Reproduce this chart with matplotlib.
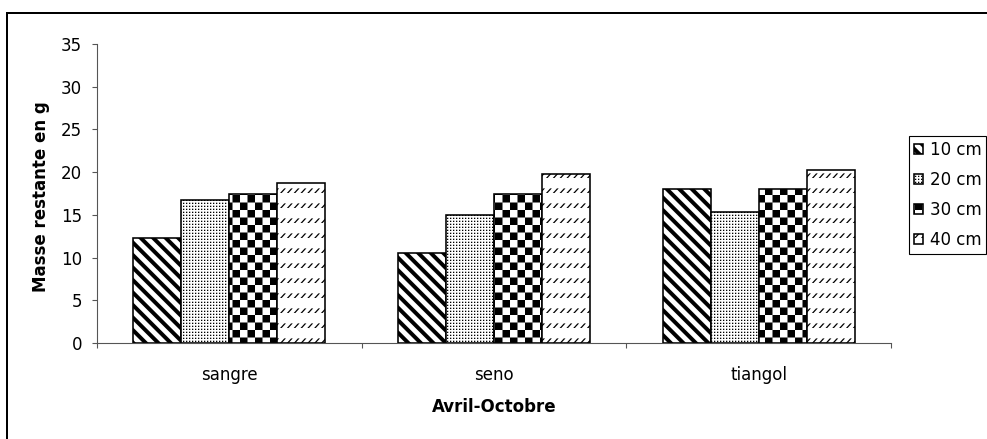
import numpy as np
import matplotlib
matplotlib.use('Agg')
import matplotlib.pyplot as plt
import matplotlib.hatch as mhatch
from matplotlib.path import Path
from matplotlib.patches import Rectangle

# ---------------- data ----------------
categories = ['sangre', 'seno', 'tiangol']
series_labels = ['10 cm', '20 cm', '30 cm', '40 cm']
values_10cm = [12.3, 10.5, 18.0]
values_20cm = [16.7, 15.0, 15.3]
values_30cm = [17.4, 17.5, 18.0]
values_40cm = [18.7, 19.8, 20.3]
y_ticks = [0, 5, 10, 15, 20, 25, 30, 35]
x_title = 'Avril-Octobre'
y_title = 'Masse restante en g'

# ---------------- custom fill patterns (Excel-like) ----------------
DPI = 75
T = float(DPI)  # hatch tile size in pixels


def _poly_path(polys):
    verts, codes = [], []
    for p in polys:
        verts.extend(p)
        verts.append(p[0])
        codes.extend([Path.MOVETO] + [Path.LINETO] * (len(p) - 1) + [Path.CLOSEPOLY])
    return Path(np.array(verts, float), np.array(codes, dtype=Path.code_type))


def _stripes():
    n, f = 6, 0.45
    p = 1.0 / n
    polys = []
    for k in range(-2, 2 * n + 3):
        c = k * p
        polys.append([(c, 0), (c + f * p, 0), (c + f * p - 1, 1), (c - 1, 1)])
    return _poly_path(polys)


def _dots():
    n = 25
    s = 1.3 / T
    polys = []
    for i in range(n):
        for j in range(n):
            x0, y0 = i / n, j / n
            polys.append([(x0, y0), (x0 + s, y0), (x0 + s, y0 + s), (x0, y0 + s)])
    return _poly_path(polys)


def _checker():
    n = 5
    p = 1.0 / n
    s = p / 2
    polys = []
    for i in range(n):
        for j in range(n):
            for (x0, y0) in [(i * p, j * p), (i * p + s, j * p + s)]:
                polys.append([(x0, y0), (x0 + s, y0), (x0 + s, y0 + s), (x0, y0 + s)])
    return _poly_path(polys)


def _slashes():
    nr, nc = 5, 11
    dx, dy, t = 4.2 / T, 4.6 / T, 1.7 / T
    polys = []
    for i in range(nc):
        for j in range(nr):
            x0, y0 = i / nc + 0.5 / T, j / nr + 2.0 / T
            polys.append([(x0, y0), (x0 + t, y0), (x0 + t + dx, y0 + dy), (x0 + dx, y0 + dy)])
    return _poly_path(polys)


_CUSTOM = {'B': _stripes(), 'D': _dots(), 'C': _checker(), 'S': _slashes()}
_orig_get_path = mhatch.get_path


def _get_path(hatchpattern, density=6):
    if hatchpattern in _CUSTOM:
        return _CUSTOM[hatchpattern]
    return _orig_get_path(hatchpattern, density)


mhatch.get_path = _get_path
mhatch._validate_hatch_pattern = lambda h: None

plt.rcParams['hatch.linewidth'] = 0.01
plt.rcParams['hatch.color'] = 'black'
plt.rcParams['font.family'] = ['DejaVu Sans']


def px(v):
    return v * 72.0 / DPI


# ---------------- figure ----------------
W, H = 987, 439
fig = plt.figure(figsize=(W / DPI, H / DPI), dpi=DPI)
fig.patch.set_facecolor('white')

ax_left, ax_right, ax_top, ax_bottom = 97, 891, 44, 343
ax = fig.add_axes([ax_left / W, 1 - ax_bottom / H,
                   (ax_right - ax_left) / W, (ax_bottom - ax_top) / H])

series = [values_10cm, values_20cm, values_30cm, values_40cm]
hatches = ['B', 'D', 'C', 'S']
x = np.arange(len(categories))
bw = 0.1813
for i, (vals, lab, h) in enumerate(zip(series, series_labels, hatches)):
    ax.bar(x + (i - 1.5) * bw, vals, bw, label=lab, facecolor='white',
           edgecolor='black', linewidth=px(1.6), hatch=h, zorder=2)

ax.set_xlim(-0.5, len(categories) - 0.5)
ax.set_ylim(0, 35)
ax.set_yticks(y_ticks)
ax.set_xticks(x, categories)
ax.set_xticks(np.arange(-0.5, len(categories), 1.0), minor=True)

axis_col = '#555555'
for s in ['top', 'right']:
    ax.spines[s].set_visible(False)
for s in ['left', 'bottom']:
    ax.spines[s].set_color(axis_col)
    ax.spines[s].set_linewidth(px(1.1))
ax.spines['bottom'].set_zorder(3)

fs = 16
ax.tick_params(axis='y', which='major', direction='out', length=px(5), width=px(1.1),
               color=axis_col, pad=px(10), labelsize=fs, labelcolor='black')
ax.tick_params(axis='x', which='major', length=0, pad=px(23), labelsize=fs,
               labelcolor='black')
ax.tick_params(axis='x', which='minor', direction='out', length=px(5), width=px(1.1),
               color=axis_col)

ax.set_ylabel(y_title, fontsize=fs, fontweight='bold', va='center')
ax.yaxis.set_label_coords((41 - ax_left) / (ax_right - ax_left),
                          (ax_bottom - 197) / (ax_bottom - ax_top))
ax.set_xlabel(x_title, fontsize=fs, fontweight='bold', va='center')
ax.xaxis.set_label_coords(0.5, (ax_bottom - 407) / (ax_bottom - ax_top))

leg = ax.legend(loc='upper left', bbox_to_anchor=(909 / W, 1 - 136 / H),
                bbox_transform=fig.transFigure, fontsize=fs, frameon=True,
                fancybox=False, edgecolor='black', framealpha=1,
                handlelength=0.55, handleheight=0.55, handletextpad=0.38,
                labelspacing=0.72, borderpad=0.3, borderaxespad=0)
leg.get_frame().set_linewidth(px(1.1))

# outer chart-area border (extends past the right and bottom edges)
fig.add_artist(Rectangle((6.5 / W, -0.5), 2.0, 0.5 + (1 - 13 / H),
                         transform=fig.transFigure, fill=False,
                         edgecolor='black', linewidth=px(2)))

fig.savefig('out.png', dpi=DPI, facecolor='white')
